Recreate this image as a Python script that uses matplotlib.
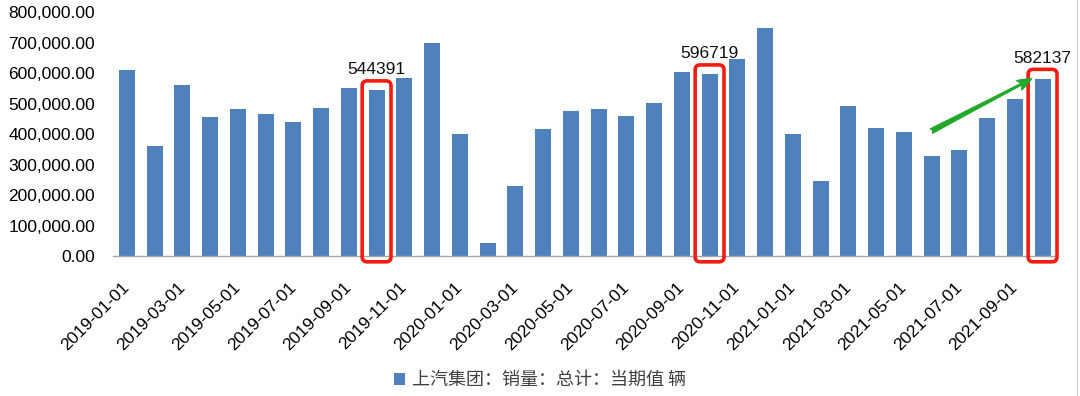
#SAIC monthly sales bar chart, 2019-01 to 2021-10
import pandas as pd
import numpy as np
from matplotlib import pyplot as plt
from matplotlib.patches import FancyBboxPatch
from matplotlib.lines import Line2D
from matplotlib.ticker import FuncFormatter

plt.rcParams['font.family'] = ['Liberation Sans', 'Noto Sans CJK SC', 'DejaVu Sans']

#Monthly sales values (vehicles)
months = pd.date_range('2019-01-01', periods=34, freq='MS').strftime('%Y-%m-%d').tolist()
sales = [611000, 362000, 560000, 455000, 481000, 465000, 439000, 487000, 550000, 544391,
         583000, 697000, 401000, 44000, 229000, 416000, 474000, 481000, 459000, 502000,
         602000, 596719, 646000, 747000, 401000, 245000, 492000, 420000, 407000, 328000,
         349000, 452000, 515000, 582137]
highlight = [9, 21, 33]   #bars with red boxes and labels
series_name = '上汽集团：销量：总计：当期值 辆'

bar_color = '#4F81BD'
red = '#F21D12'
green = '#22A82A'

ax_rect = [0.1046, 0.3535, 0.8736, 0.616]
fig = plt.figure(figsize=(10.8, 3.96), dpi=100)
ax = fig.add_axes(ax_rect)

x = np.arange(len(sales))
ax.bar(x, sales, width=0.58, color=bar_color, label=series_name, zorder=2)

ax.set_xlim(-0.5, len(sales) - 0.5)
ax.set_ylim(0, 800000)
ax.set_yticks(np.arange(0, 800001, 100000))
ax.yaxis.set_major_formatter(FuncFormatter(lambda v, p: '{:,.2f}'.format(v)))
ax.tick_params(axis='y', length=0, pad=13, labelsize=12.5, labelcolor='#000000')

ax.set_xticks(x[::2])
ax.set_xticklabels(months[::2], rotation=45, ha='right', va='center',
                   rotation_mode='anchor', fontsize=12.5)
ax.tick_params(axis='x', length=0, pad=21)

for s in ['top', 'right', 'left']:
  ax.spines[s].set_visible(False)
ax.spines['bottom'].set_color('#A6A6A6')
ax.spines['bottom'].set_linewidth(1.0)

#rounding has to look round on screen, so squeeze it by the axes aspect
xpp = len(sales) / (ax_rect[2] * 1080)
ypp = 800000 / (ax_rect[3] * 396)
aspect = ypp / xpp

for i in highlight:
  box = FancyBboxPatch((i - 0.52, -19000), 1.04, sales[i] + 30000 + 19000,
                       boxstyle='round,pad=0,rounding_size=0.18', mutation_aspect=aspect,
                       fill=False, edgecolor=red, linewidth=2.6, clip_on=False, zorder=3)
  ax.add_patch(box)
  ax.text(i, sales[i] + 66000, str(sales[i]), ha='center', va='center', fontsize=12.5,
          color='#111111', zorder=4)

#green trend arrow near the end
ax.annotate('', xy=(32.6, 581000), xytext=(29.0, 410000),
            arrowprops=dict(arrowstyle='fancy,head_length=1.0,head_width=0.75,tail_width=0.35',
                            color=green, mutation_scale=10, shrinkA=0, shrinkB=0),
            zorder=4)

leg = fig.legend(loc='center', bbox_to_anchor=(0.5, 0.04), frameon=False,
                 handlelength=0.6, handleheight=0.6, handletextpad=0.4,
                 prop={'family': ['Noto Sans CJK SC', 'DejaVu Sans'], 'size': 13})
for t in leg.get_texts():
  t.set_color('#404040')

fig.add_artist(Line2D([0.9975, 0.9975], [0, 1], transform=fig.transFigure,
                      color='#D0D0D0', linewidth=1))

fig.savefig('out.png', dpi=100)
